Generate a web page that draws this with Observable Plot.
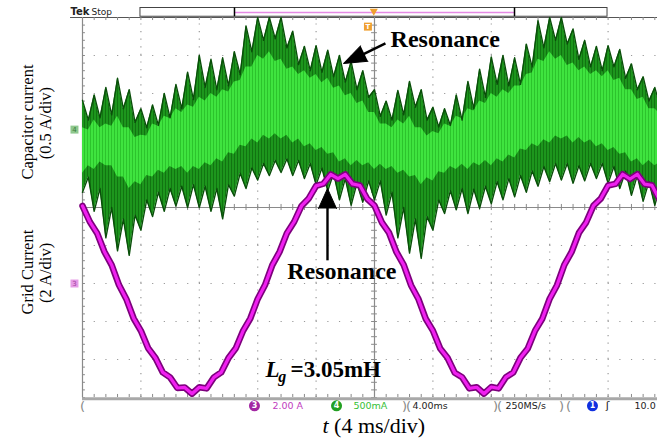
<!DOCTYPE html>
<html><head><meta charset="utf-8">
<script src="https://cdn.jsdelivr.net/npm/d3@7"></script>
<script src="https://cdn.jsdelivr.net/npm/@observablehq/plot@0.6"></script>
<style>
html,body{margin:0;padding:0;background:#fff;overflow:hidden}
#chart svg{display:block;overflow:hidden;background:#fff}
</style></head><body><div id="chart"></div>
<script>
// ---- Data ----
// Time base: 4 ms/div, 10 divisions shown
const capStepMs = 0.4;      // sampling of capacitor-current envelopes
const gridStepMs = 0.5;     // sampling of grid current

// Capacitor current (A), channel 4, 0.5 A/div, ground at +2 div
const capUpper = [0.41,0.15,0.48,0.18,0.58,0.22,0.70,0.30,0.55,0.12,
 0.30,0.05,0.35,0.08,0.50,0.18,0.62,0.30,0.78,0.42,
 1.00,0.58,0.95,0.55,0.97,0.60,1.05,0.75,1.39,1.05,
 1.50,1.20,1.50,1.22,1.50,1.10,1.32,0.88,1.12,0.80,
 1.13,0.78,1.07,0.72,1.00,0.65,0.92,0.55,0.80,0.45,
 0.55,0.20,0.40,0.15,0.54,0.22,0.66,0.32,0.55,0.15,
 0.32,0.06,0.30,0.08,0.48,0.15,0.66,0.30,0.82,0.45,
 0.98,0.62,1.00,0.60,0.97,0.62,1.15,0.85,1.46,1.10,
 1.50,1.20,1.50,1.15,1.35,0.95,1.20,0.85,1.12,0.80,
 1.13,0.85,1.08,0.70,0.89,0.55,0.72,0.40,0.58,0.30];
const capLower = [-0.80,-0.60,-1.05,-0.75,-1.40,-1.00,-1.57,-1.15,-1.63,-1.10,
 -1.30,-0.90,-1.12,-0.80,-1.05,-0.75,-0.98,-0.72,-1.00,-0.70,
 -1.00,-0.72,-1.05,-0.75,-1.15,-0.70,-0.85,-0.55,-0.75,-0.48,
 -0.64,-0.42,-0.58,-0.38,-0.54,-0.36,-0.58,-0.38,-0.62,-0.42,
 -0.70,-0.48,-0.78,-0.55,-0.90,-0.62,-0.97,-0.68,-0.93,-0.65,
 -0.90,-0.65,-1.10,-0.80,-1.40,-1.00,-1.60,-1.15,-1.67,-1.12,
 -1.30,-0.90,-1.08,-0.78,-1.03,-0.75,-1.08,-0.76,-1.01,-0.72,
 -0.95,-0.66,-0.90,-0.62,-0.86,-0.58,-0.80,-0.52,-0.72,-0.46,
 -0.66,-0.42,-0.64,-0.42,-0.68,-0.45,-0.65,-0.42,-0.62,-0.42,
 -0.68,-0.46,-0.75,-0.52,-0.84,-0.58,-0.92,-0.66,-0.97,-0.70];
// bright (high-persistence) inner band of the same trace
const capInnerUpper = [0.05,0.02,0.15,0.05,0.10,0.07,0.20,0.05,0.05,-0.08,
 -0.05,-0.06,0.10,0.07,0.20,0.17,0.30,0.25,0.35,0.32,
 0.45,0.40,0.50,0.45,0.55,0.52,0.65,0.67,0.85,0.85,
 1.00,0.95,1.05,0.92,0.95,0.82,0.85,0.75,0.80,0.70,
 0.75,0.64,0.70,0.57,0.60,0.47,0.50,0.37,0.40,0.25,
 0.25,0.10,0.10,0.05,0.15,0.10,0.20,0.05,0.05,-0.06,
 0.00,-0.03,0.10,0.07,0.20,0.17,0.30,0.27,0.40,0.37,
 0.50,0.45,0.55,0.50,0.60,0.60,0.75,0.77,0.95,0.92,
 1.05,0.95,1.00,0.87,0.90,0.80,0.85,0.75,0.80,0.72,
 0.80,0.67,0.70,0.55,0.55,0.42,0.45,0.30,0.30,0.22];
const capInnerLower = [-0.55,-0.45,-0.50,-0.40,-0.45,-0.45,-0.60,-0.60,-0.75,-0.66,
 -0.70,-0.58,-0.60,-0.51,-0.55,-0.46,-0.50,-0.46,-0.55,-0.46,
 -0.50,-0.41,-0.45,-0.36,-0.40,-0.28,-0.30,-0.18,-0.20,-0.10,
 -0.15,-0.05,-0.10,-0.03,-0.10,-0.05,-0.15,-0.10,-0.20,-0.16,
 -0.25,-0.21,-0.30,-0.28,-0.40,-0.36,-0.45,-0.38,-0.45,-0.41,
 -0.50,-0.43,-0.50,-0.46,-0.55,-0.51,-0.60,-0.58,-0.70,-0.61,
 -0.65,-0.53,-0.55,-0.46,-0.50,-0.43,-0.50,-0.41,-0.45,-0.38,
 -0.45,-0.36,-0.40,-0.31,-0.35,-0.23,-0.25,-0.16,-0.20,-0.11,
 -0.15,-0.06,-0.10,-0.06,-0.15,-0.08,-0.15,-0.11,-0.20,-0.16,
 -0.25,-0.21,-0.30,-0.28,-0.40,-0.36,-0.45,-0.38,-0.45,-0.40];

// Grid current (A), channel 3, 2 A/div, ground at -2 div
const gridCurrent = [4.08,3.25,2.65,1.67,0.97,-0.08,-0.81,-1.83,-2.49,-3.41,
 -3.92,-4.68,-4.94,-5.50,-5.47,-5.80,-5.46,-5.52,-4.94,-4.68,
 -3.92,-3.41,-2.49,-1.83,-0.81,-0.08,0.97,1.67,2.65,3.25,
 4.08,4.48,5.14,5.25,5.74,5.52,5.74,5.24,5.16,4.46,
 4.10,3.22,2.66,1.66,0.98,-0.09,-0.80,-1.84,-2.48,-3.42,
 -3.91,-4.70,-4.93,-5.52,-5.46,-5.80,-5.45,-5.52,-4.93,-4.69,
 -3.91,-3.42,-2.48,-1.84,-0.80,-0.09,0.98,1.66,2.66,3.22,
 4.10,4.47,5.16,5.24,5.75,5.50,5.75,5.23,5.17,4.45];

const capAmpsPerDiv = 0.5, capOffsetDiv = 2;
const gridAmpsPerDiv = 2, gridOffsetDiv = -2;

// ---- tables built from the arrays ----
const toCapDiv = a => a / capAmpsPerDiv + capOffsetDiv;
const capRows = capUpper.map((hi, i) => ({t: i * capStepMs, hi: toCapDiv(hi), lo: toCapDiv(capLower[i])}));
const innerRows = capInnerUpper.map((hi, i) => ({t: i * capStepMs, hi: toCapDiv(hi), lo: toCapDiv(capInnerLower[i])}));
const gridRows = gridCurrent.map((v, i) => ({t: i * gridStepMs, v: v / gridAmpsPerDiv + gridOffsetDiv}));

const tMinor = d3.range(0, 51).map(i => i * 0.8);
const dMinor = d3.range(0, 51).map(i => -5 + i * 0.2);
const tMajor = [4, 8, 12, 16, 24, 28, 32, 36];
const dMajor = [-4, -3, -2, -1, 1, 2, 3, 4];

const serif = "Liberation Serif, Times New Roman, serif";
const sans = "DejaVu Sans, Arial, sans-serif";
const gridGray = "#9a9a9a";
const T = (s, x, y, o = {}) => Plot.text([s], {x, y, text: d => d, ...o});

const chart = Plot.plot({
  width: 657, height: 438,
  marginLeft: 0, marginRight: 0, marginTop: 0, marginBottom: 0,
  x: {domain: [0, 40], range: [82, 666], axis: null},
  y: {domain: [-5, 5], range: [397, 17], axis: null},
  marks: [
    // graticule
    Plot.ruleX(tMajor, {x: d => d, y1: -5, y2: 5, stroke: gridGray, strokeWidth: 1.2, strokeDasharray: "1.2,6.4"}),
    Plot.ruleY(dMajor, {y: d => d, x1: 0, x2: 40, stroke: gridGray, strokeWidth: 1.2, strokeDasharray: "1.2,10.48"}),
    Plot.ruleY([0], {x1: 0, x2: 40, stroke: "#8a8a8a", strokeWidth: 1.2}),
    Plot.ruleX([20], {y1: -5, y2: 5, stroke: "#8a8a8a", strokeWidth: 1.2}),
    Plot.ruleX(tMinor, {x: d => d, y1: -0.08, y2: 0.08, stroke: "#8a8a8a"}),
    Plot.ruleY(dMinor, {y: d => d, x1: 19.8, x2: 20.2, stroke: "#8a8a8a"}),
    Plot.ruleX([0], {y1: -5, y2: 5, stroke: "#8a8a8a", strokeWidth: 1.2}),
    Plot.ruleY(dMinor, {y: d => d, x1: 0, x2: 0.2, stroke: "#8a8a8a"}),
    Plot.ruleY([5], {x1: -0.82, x2: 40, stroke: "#555", strokeWidth: 1.2}),
    Plot.ruleX(tMinor, {x: d => d, y1: 5, y2: 4.92, stroke: "#8a8a8a"}),
    Plot.ruleX(tMinor, {x: d => d, y1: -5, y2: -4.92, stroke: "#8a8a8a"}),
    Plot.ruleY([-5.03], {x1: 0, x2: 40, stroke: "#a8a8a8", strokeWidth: 3}),

    // capacitor current (green)
    Plot.areaY(capRows, {x: "t", y1: "lo", y2: "hi", fill: "url(#hatchDark)"}),
    Plot.areaY(innerRows, {x: "t", y1: "lo", y2: "hi", fill: "url(#hatchLight)"}),
    Plot.line(capRows, {x: "t", y: "hi", stroke: "#0a4f0a", strokeWidth: 1.4}),
    Plot.line(capRows, {x: "t", y: "lo", stroke: "#0a4f0a", strokeWidth: 1.4}),

    // grid current (magenta)
    Plot.line(gridRows, {x: "t", y: "v", stroke: "#7d007d", strokeWidth: 6.5, strokeLinejoin: "round"}),
    Plot.line(gridRows, {x: "t", y: "v", stroke: "#f020f0", strokeWidth: 3.2, strokeLinejoin: "round"}),

    // annotations
    Plot.link([0], {x1: 20.75, y1: 4.32, x2: 18.9, y2: 3.97, stroke: "black", strokeWidth: 2.6}),
    Plot.vector([0], {x: 17.88, y: 3.79, length: 23, rotate: 244.5, anchor: "end", shape: "spike", r: 8.5, fill: "black", stroke: "black", strokeWidth: 1}),
    T("Resonance", 21.1, 4.42, {fontFamily: serif, fontWeight: "bold", fontSize: 24, textAnchor: "start", fill: "black"}),
    Plot.link([0], {x1: 16.78, y1: -1.39, x2: 16.78, y2: 0.1, stroke: "black", strokeWidth: 2.4}),
    Plot.vector([0], {x: 16.78, y: 0.5, length: 20, rotate: 0, anchor: "end", shape: "spike", r: 9, fill: "black", stroke: "black", strokeWidth: 1}),
    T("Resonance", 14.02, -1.67, {fontFamily: serif, fontWeight: "bold", fontSize: 24, textAnchor: "start", fill: "black"}),
    T("L", 12.53, -4.27, {fontFamily: serif, fontWeight: "bold", fontStyle: "italic", fontSize: 23, textAnchor: "start", fill: "black"}),
    T("g", 13.40, -4.45, {fontFamily: serif, fontWeight: "bold", fontStyle: "italic", fontSize: 16, textAnchor: "start", fill: "black"}),
    T("=3.05mH", 14.25, -4.27, {fontFamily: serif, fontWeight: "bold", fontSize: 23, textAnchor: "start", fill: "black"}),

    // axis titles
    T("Capacitor current", -3.77, 2.25, {fontFamily: serif, fontSize: 16.5, rotate: -90, fill: "black"}),
    T("(0.5 A/div)", -2.5, 2.22, {fontFamily: serif, fontSize: 16.5, rotate: -90, fill: "black"}),
    T("Grid Current", -3.77, -1.70, {fontFamily: serif, fontSize: 16.5, rotate: -90, fill: "black"}),
    T("(2 A/div)", -2.5, -1.72, {fontFamily: serif, fontSize: 16.5, rotate: -90, fill: "black"}),
    T("t", 16.44, -5.74, {fontFamily: serif, fontStyle: "italic", fontSize: 22, textAnchor: "start", fill: "black"}),
    T("(4 ms/div)", 17.23, -5.74, {fontFamily: serif, fontSize: 22, textAnchor: "start", fill: "black"}),

    // scope header
    T("Tek", -0.82, 5.145, {fontFamily: sans, fontWeight: "bold", fontSize: 10, textAnchor: "start", fill: "#222"}),
    T("Stop", 0.62, 5.145, {fontFamily: sans, fontSize: 9, textAnchor: "start", fill: "#222"}),
    Plot.rect([0], {x1: 3.97, x2: 35.96, y1: 5.02, y2: 5.25, fill: "white", stroke: "#444", strokeWidth: 1}),
    Plot.ruleY([5.13], {x1: 10.41, x2: 29.59, stroke: "#e58ae5", strokeWidth: 1.6}),
    Plot.ruleX([10.41, 29.59], {y1: 5.02, y2: 5.25, stroke: "#000", strokeWidth: 1.5}),
    Plot.dot([0], {x: 19.95, y: 5.17, symbol: "triangle", r: 3, fill: "#f0a030", rotate: 180}),
    Plot.dot([0], {x: 19.55, y: 4.76, symbol: "square", r: 4.5, fill: "#f0a030"}),
    T("T", 19.55, 4.76, {fontFamily: sans, fontWeight: "bold", fontSize: 7, fill: "white"}),

    // channel ground markers
    Plot.dot([0], {x: -0.55, y: 2.05, symbol: "square", r: 4.5, fill: "#8ec88e"}),
    T("4", -0.55, 2.05, {fontFamily: sans, fontSize: 7, fill: "#3a7a3a"}),
    Plot.dot([0], {x: -0.55, y: -2.0, symbol: "square", r: 4.5, fill: "#e69be6"}),
    T("3", -0.55, -2.0, {fontFamily: sans, fontSize: 7, fill: "#a040a0"}),

    // status bar
    ...[[0, "("], [22.05, ")"], [22.33, "("], [28.29, ")"], [28.56, "("], [32.81, ")"], [33.29, "("]].map(([x, s]) =>
      T(s, x, -5.24, {fontFamily: sans, fontSize: 13, fill: "#888"})),
    Plot.dot([0], {x: 11.78, y: -5.22, r: 5.5, fill: "#a326a3"}),
    T("3", 11.78, -5.22, {fontFamily: sans, fontWeight: "bold", fontSize: 8, fill: "white"}),
    T("2.00 A", 13.01, -5.22, {fontFamily: sans, fontSize: 9.5, textAnchor: "start", fill: "#c03cc0"}),
    Plot.dot([0], {x: 17.40, y: -5.22, r: 5.5, fill: "#22a022"}),
    T("4", 17.40, -5.22, {fontFamily: sans, fontWeight: "bold", fontSize: 8, fill: "white"}),
    T("500mA", 18.56, -5.22, {fontFamily: sans, fontSize: 9.5, textAnchor: "start", fill: "#35c035"}),
    T("4.00ms", 22.6, -5.22, {fontFamily: sans, fontSize: 9.5, textAnchor: "start", fill: "#222"}),
    T("250MS/s", 28.97, -5.22, {fontFamily: sans, fontSize: 9.5, textAnchor: "start", fill: "#222"}),
    Plot.dot([0], {x: 34.93, y: -5.22, r: 5.5, fill: "#1030e0"}),
    T("1", 34.93, -5.22, {fontFamily: sans, fontWeight: "bold", fontSize: 8, fill: "white"}),
    T("ʃ", 35.96, -5.22, {fontFamily: sans, fontSize: 11, fill: "#222"}),
    T("10.0", 37.81, -5.22, {fontFamily: sans, fontSize: 9.5, textAnchor: "start", fill: "#222"})
  ]
});

// persistence-style vertical hatching used as fills for the green trace
const defs = d3.select(chart).insert("defs", ":first-child");
const pd = defs.append("pattern").attr("id", "hatchDark").attr("patternUnits", "userSpaceOnUse").attr("width", 3).attr("height", 10);
pd.append("rect").attr("width", 3).attr("height", 10).attr("fill", "#1d961d");
pd.append("rect").attr("width", 1).attr("height", 10).attr("fill", "#117411");
const pl = defs.append("pattern").attr("id", "hatchLight").attr("patternUnits", "userSpaceOnUse").attr("width", 3).attr("height", 10);
pl.append("rect").attr("width", 3).attr("height", 10).attr("fill", "#3fe43f");
pl.append("rect").attr("width", 1).attr("height", 10).attr("fill", "#2cc42c");

document.getElementById("chart").appendChild(chart);
</script>
</body></html>
